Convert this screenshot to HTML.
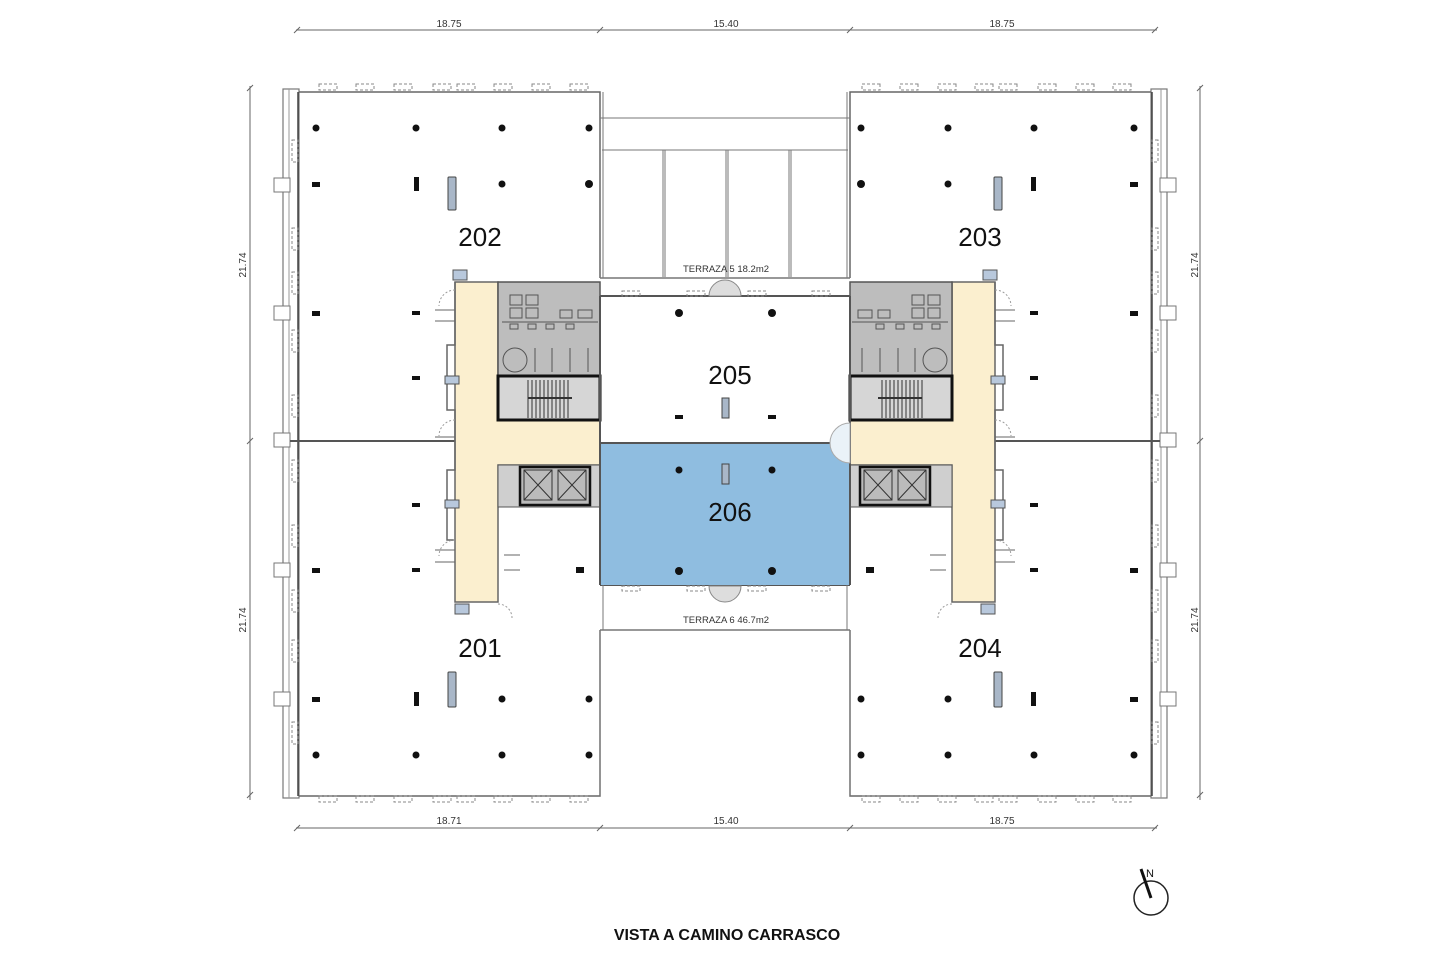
<!DOCTYPE html>
<html><head><style>
html,body{margin:0;padding:0;background:#fff;}
svg{display:block;}
text{font-family:"Liberation Sans",sans-serif;}
</style></head><body>
<svg width="1440" height="961" viewBox="0 0 1440 961" xmlns="http://www.w3.org/2000/svg">
<defs>
<g id="half" stroke="#555" fill="none">
  <!-- facade strip -->
  <rect x="283" y="89" width="16" height="709" stroke="#777" stroke-width="1.2"/>
  <line x1="289" y1="89" x2="289" y2="798" stroke="#999"/>
  <!-- main outline -->
  <path d="M299 92 H600 V278 M299 796 H600 V630" stroke="#666" stroke-width="1.5"/>
  <line x1="298" y1="92" x2="298" y2="796" stroke="#444" stroke-width="1.5"/>
  <!-- facade window boxes top/bottom -->
  <g stroke="#888" stroke-dasharray="3,2">
    <rect x="319" y="84" width="18" height="6"/><rect x="356" y="84" width="18" height="6"/><rect x="394" y="84" width="18" height="6"/><rect x="433" y="84" width="18" height="6"/><rect x="457" y="84" width="18" height="6"/><rect x="494" y="84" width="18" height="6"/><rect x="532" y="84" width="18" height="6"/><rect x="570" y="84" width="18" height="6"/>
    <rect x="319" y="796" width="18" height="6"/><rect x="356" y="796" width="18" height="6"/><rect x="394" y="796" width="18" height="6"/><rect x="433" y="796" width="18" height="6"/><rect x="457" y="796" width="18" height="6"/><rect x="494" y="796" width="18" height="6"/><rect x="532" y="796" width="18" height="6"/><rect x="570" y="796" width="18" height="6"/>
    <rect x="292" y="140" width="6" height="22"/><rect x="292" y="228" width="6" height="22"/><rect x="292" y="272" width="6" height="22"/><rect x="292" y="330" width="6" height="22"/><rect x="292" y="395" width="6" height="22"/><rect x="292" y="460" width="6" height="22"/><rect x="292" y="525" width="6" height="22"/><rect x="292" y="590" width="6" height="22"/><rect x="292" y="640" width="6" height="22"/><rect x="292" y="722" width="6" height="22"/>
  </g>
  <g stroke="#777" fill="#fff">
    <rect x="274" y="178" width="16" height="14"/><rect x="274" y="306" width="16" height="14"/><rect x="274" y="433" width="16" height="14"/><rect x="274" y="563" width="16" height="14"/><rect x="274" y="692" width="16" height="14"/>
  </g>
  <!-- divider line -->
  <line x1="290" y1="441" x2="455" y2="441" stroke="#555" stroke-width="2"/>
  <!-- cream corridor -->
  <path d="M455 282 H498 V420 H600 V465 H498 V602 H455 Z" fill="#fbefcf" stroke="#666" stroke-width="1.5"/>
  <path d="M455 282 V345 H447 V410 H455 V470 H447 V540 H455" stroke="#666" stroke-width="1.5"/>
  <!-- gray core -->
  <rect x="498" y="282" width="102" height="95" fill="#bdbdbd" stroke="#555" stroke-width="1.5"/>
  <g stroke="#555" stroke-width="1" fill="none">
    <rect x="510" y="295" width="12" height="10"/><rect x="526" y="295" width="12" height="10"/><rect x="510" y="308" width="12" height="10"/><rect x="526" y="308" width="12" height="10"/>
    <rect x="560" y="310" width="12" height="8"/><rect x="578" y="310" width="14" height="8"/>
    <line x1="502" y1="322" x2="598" y2="322"/>
    <rect x="510" y="324" width="8" height="5"/><rect x="528" y="324" width="8" height="5"/><rect x="546" y="324" width="8" height="5"/><rect x="566" y="324" width="8" height="5"/>
    <circle cx="515" cy="360" r="12"/>
    <path d="M535 348 V372 M552 348 V372 M570 348 V372 M588 348 V372"/>
  </g>
  <rect x="498" y="376" width="102" height="44" fill="#d6d6d6" stroke="#111" stroke-width="3"/>
  <g stroke="#333" stroke-width="1">
    <path d="M528 380 V418 M532 380 V418 M536 380 V418 M540 380 V418 M544 380 V418 M548 380 V418 M552 380 V418 M556 380 V418 M560 380 V418 M564 380 V418 M568 380 V418"/>
    <line x1="528" y1="398" x2="572" y2="398" stroke-width="2"/>
  </g>
  <!-- elevators -->
  <rect x="498" y="465" width="102" height="42" fill="#cfcfcf" stroke="#555"/>
  <rect x="520" y="467" width="70" height="38" fill="#bbb" stroke="#111" stroke-width="2.5"/>
  <g stroke="#333" stroke-width="1" fill="none">
    <rect x="524" y="470" width="28" height="30"/><rect x="558" y="470" width="28" height="30"/>
    <path d="M524 470 L552 500 M552 470 L524 500 M558 470 L586 500 M586 470 L558 500"/>
  </g>
  <!-- small blue boxes -->
  <g fill="#b8c8dc" stroke="#555">
    <rect x="453" y="270" width="14" height="10"/><rect x="445" y="376" width="14" height="8"/><rect x="445" y="500" width="14" height="8"/><rect x="455" y="604" width="14" height="10"/>
  </g>
  <!-- door arcs -->
  <g stroke="#999" stroke-width="1" stroke-dasharray="2,2">
    <path d="M455 290 A16 16 0 0 0 439 306"/><path d="M455 540 A16 16 0 0 0 439 556"/><path d="M455 420 A16 16 0 0 0 439 436"/><path d="M498 604 A14 14 0 0 1 512 618"/>
  </g>
  <g stroke="#666"><path d="M435 310 H455 M435 321 H455 M435 550 H455 M435 562 H455 M435 437 H455 M504 555 H520 M504 570 H520"/></g>
  <!-- columns -->
  <g fill="#111" stroke="none">
    <circle cx="316" cy="128" r="3.5"/><circle cx="416" cy="128" r="3.5"/><circle cx="502" cy="128" r="3.5"/><circle cx="589" cy="128" r="3.5"/>
    <rect x="312" y="182" width="8" height="5"/><rect x="414" y="177" width="5" height="14"/><circle cx="502" cy="184" r="3.5"/><circle cx="589" cy="184" r="4"/>
    <rect x="312" y="311" width="8" height="5"/><rect x="412" y="311" width="8" height="4"/>
    <rect x="412" y="376" width="8" height="4"/>
    <rect x="412" y="503" width="8" height="4"/>
    <rect x="312" y="568" width="8" height="5"/><rect x="412" y="568" width="8" height="4"/><rect x="576" y="567" width="8" height="6"/>
    <rect x="312" y="697" width="8" height="5"/><rect x="414" y="692" width="5" height="14"/><circle cx="502" cy="699" r="3.5"/><circle cx="589" cy="699" r="3.5"/>
    <circle cx="316" cy="755" r="3.5"/><circle cx="416" cy="755" r="3.5"/><circle cx="502" cy="755" r="3.5"/><circle cx="589" cy="755" r="3.5"/>
  </g>
  <g fill="#a9b7c8" stroke="#444"><rect x="448" y="177" width="8" height="33" rx="1"/><rect x="448" y="672" width="8" height="35" rx="1"/></g>
</g>
</defs>

<use href="#half"/>
<use href="#half" transform="matrix(-1 0 0 1 1450 0)"/>

<!-- middle section -->
<g stroke="#777" fill="none">
  <line x1="600" y1="118" x2="850" y2="118"/>
  <line x1="602" y1="150" x2="848" y2="150"/>
  <line x1="603" y1="92" x2="603" y2="278"/><line x1="847" y1="92" x2="847" y2="278"/>
  <path d="M663 150 V277 M665 150 V277 M726 150 V277 M728 150 V277 M789 150 V277 M791 150 V277"/>
  <line x1="600" y1="278" x2="850" y2="278" stroke-width="1.5"/>
  <line x1="600" y1="296" x2="850" y2="296" stroke="#555" stroke-width="2"/>
  <line x1="600" y1="585" x2="850" y2="585" stroke="#555" stroke-width="2"/>
  <line x1="600" y1="630" x2="850" y2="630" stroke-width="1.5"/>
  <line x1="603" y1="585" x2="603" y2="630"/><line x1="847" y1="585" x2="847" y2="630"/>
  <line x1="600" y1="630" x2="600" y2="796"/><line x1="850" y1="630" x2="850" y2="796"/>
</g>
<g stroke="#888" fill="none" stroke-dasharray="3,2">
  <rect x="622" y="291" width="18" height="5"/><rect x="687" y="291" width="18" height="5"/><rect x="748" y="291" width="18" height="5"/><rect x="812" y="291" width="18" height="5"/>
  <rect x="622" y="586" width="18" height="5"/><rect x="687" y="586" width="18" height="5"/><rect x="748" y="586" width="18" height="5"/><rect x="812" y="586" width="18" height="5"/>
</g>
<path d="M709 296 A16 16 0 0 1 741 296 Z" fill="#ddd" stroke="#888"/>
<path d="M709 586 A16 16 0 0 0 741 586 Z" fill="#ddd" stroke="#888"/>
<rect x="601" y="443" width="249" height="142" fill="#8fbde0"/>
<line x1="600" y1="443" x2="850" y2="443" stroke="#555" stroke-width="2"/>
<line x1="600" y1="296" x2="600" y2="585" stroke="#555" stroke-width="2"/>
<line x1="850" y1="296" x2="850" y2="585" stroke="#555" stroke-width="2"/>
<path d="M850 423 A20 20 0 0 0 850 463 Z" fill="#eaf2f8" stroke="#aaa"/>
<g fill="#111">
  <circle cx="679" cy="313" r="4"/><circle cx="772" cy="313" r="4"/>
  <rect x="675" y="415" width="8" height="4"/><rect x="768" y="415" width="8" height="4"/>
  <circle cx="679" cy="470" r="3.5"/><circle cx="772" cy="470" r="3.5"/>
  <circle cx="679" cy="571" r="4"/><circle cx="772" cy="571" r="4"/>
</g>
<g fill="#a9b7c8" stroke="#444"><rect x="722" y="398" width="7" height="20"/><rect x="722" y="464" width="7" height="20"/></g>

<!-- dimension lines -->
<g stroke="#666" stroke-width="1">
  <line x1="296" y1="30" x2="1157" y2="30"/><line x1="296" y1="828" x2="1157" y2="828"/>
  <line x1="250" y1="86" x2="250" y2="800"/><line x1="1200" y1="86" x2="1200" y2="800"/>
  <path d="M294 33 L300 27 M597 33 L603 27 M847 33 L853 27 M1152 33 L1158 27"/>
  <path d="M294 831 L300 825 M597 831 L603 825 M847 831 L853 825 M1152 831 L1158 825"/>
  <path d="M247 91 L253 85 M247 444 L253 438 M247 798 L253 792 M1197 91 L1203 85 M1197 444 L1203 438 M1197 798 L1203 792"/>
</g>
<g font-size="10" fill="#333" text-anchor="middle">
  <text x="449" y="27">18.75</text><text x="726" y="27">15.40</text><text x="1002" y="27">18.75</text>
  <text x="449" y="824">18.71</text><text x="726" y="824">15.40</text><text x="1002" y="824">18.75</text>
  <text transform="translate(246,265) rotate(-90)">21.74</text>
  <text transform="translate(246,620) rotate(-90)">21.74</text>
  <text transform="translate(1198,265) rotate(-90)">21.74</text>
  <text transform="translate(1198,620) rotate(-90)">21.74</text>
  <text x="726" y="272" font-size="9.5">TERRAZA 5 18.2m2</text>
  <text x="726" y="623" font-size="9.5">TERRAZA 6 46.7m2</text>
</g>
<g font-size="26" fill="#111" text-anchor="middle">
  <text x="480" y="246">202</text><text x="980" y="246">203</text>
  <text x="480" y="657">201</text><text x="980" y="657">204</text>
  <text x="730" y="384">205</text><text x="730" y="521">206</text>
</g>
<text x="727" y="940" font-size="16" font-weight="bold" text-anchor="middle" fill="#111">VISTA A CAMINO CARRASCO</text>
<circle cx="1151" cy="898" r="17" fill="none" stroke="#222" stroke-width="1.5"/>
<line x1="1141" y1="869" x2="1151" y2="898" stroke="#111" stroke-width="3"/>
<text x="1150" y="877" font-size="11" fill="#111" text-anchor="middle">N</text>
</svg>
</body></html>
